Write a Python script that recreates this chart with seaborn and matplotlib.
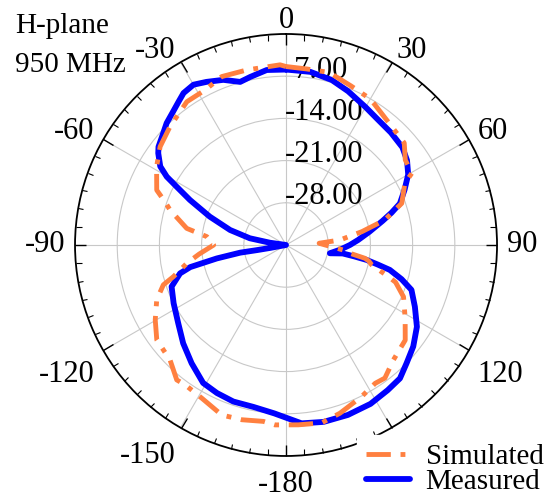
import numpy as np
import matplotlib
matplotlib.use("Agg")
import matplotlib.pyplot as plt
import matplotlib.transforms as mtransforms
import seaborn as sns

# angles (deg, clockwise from top, left side negative), gain in dB
meas_angle = [0, 3, 8, 15.5, 22, 30, 36, 43, 50, 55, 60, 65, 70, 73, 76, 81, 86, 90, 95,
              100.7, 98.5, 99.5, 100.5, 102, 103.5, 106.5, 109.7, 115.6, 122, 128.6, 134.4,
              139.5, 145, 152, 160, 168, 175, -176, -168.6, -161.4, -155, -149, -141.4,
              -133.7, -126, -117.4, -110, -105, -103, -101, -99.5, -100, -100.5, -90, -82,
              -79.5, -75, -69.6, -64.9, -62, -60.2, -58, -54.3, -52.4, -48.9, -44.4, -40.2,
              -36.9, -34, -30, -26, -20.8, -15.7, -12, -6.3, 0]
meas_gain = [-5.9, -6.0, -6.0, -6.6, -7.5, -8.6, -9.2, -9.5, -9.8, -10.5, -11.6, -13.3, -14.9,
             -16.7, -18.5, -21.0, -23.0, -24.4, -26.0, -27.6, -25.5, -23.5, -21.4, -19.5,
             -17.3, -15.0, -12.9, -11.3, -9.4, -8.0, -7.0, -5.9, -5.6, -5.15, -5.0, -5.0,
             -5.3, -7.0, -7.6, -7.6, -7.9, -8.3, -9.9, -11.4, -12.9, -14.0, -14.8, -16.8,
             -18.7, -23.3, -27.3, -30.1, -32.3, -35.0, -32.3, -28.9, -25.4, -21.5, -17.4,
             -14.5, -12.2, -10.4, -8.9, -8.3, -7.7, -6.7, -6.0, -5.3, -4.6, -4.3, -4.9,
             -5.7, -6.9, -6.5, -5.8, -5.9]

sim_angle = [0, 6.7, 14, 22.2, 29.2, 32, 40, 49.2, 54.5, 60.3, 62.6, 70.2, 75.8, 80, 84.7,
             87, 90, 95, 97.5, 99.6, 101, 103.1, 107.2, 108.8, 113.8, 121.6, 128.6, 137,
             143.4, 147.2, 153.5, 162.2, 168.7, 176.1, -176.5, -172.7, -165.8, -159.3,
             -151.2, -144.2, -141, -134.8, -126.3, -119.8, -113, -108, -105.7, -100.4, -96,
             -90, -84, -80.5, -73.2, -70.4, -67, -58.8, -52, -44.4, -34.7, -27.6, -20.9,
             -12.7, -1.9, 0]
sim_gain = [-5.4, -5.6, -5.5, -6.5, -7.0, -7.4, -8.5, -9.1, -10.7, -11.0, -12.8, -14.6, -18.1,
            -22.2, -26.0, -29.5, -28.5, -25.5, -24.2, -21.7, -21.0, -20.4, -17.2, -15.8,
            -13.7, -11.8, -9.7, -8.9, -7.5, -7.7, -6.9, -5.7, -4.9, -5.1, -5.1, -5.5, -5.1,
            -4.85, -6.0, -6.4, -6.2, -7.9, -8.4, -10.0, -11.7, -13.6, -15.6, -18.3, -20.5,
            -23.0, -21.8, -18.3, -14.9, -13.7, -11.7, -9.9, -8.5, -7.5, -6.1, -6.0, -5.1,
            -5.25, -5.1, -5.4]

rings = [-28, -21, -14, -7]
theta_ticks = [0, 30, 60, 90, 120, 150, 180, 210, 240, 270, 300, 330]
# the 150 label sits under the legend in the original, so it is left blank
theta_labels = ["0", "30", "60", "90", "120", "", "-180", "-150", "-120", "-90", "-60", "-30"]

sns.set_theme(style="white")
plt.rcParams['font.family'] = ['Liberation Serif', 'DejaVu Serif']
plt.rcParams['text.color'] = 'black'
plt.rcParams['xtick.color'] = 'black'

fig = plt.figure(figsize=(5.5, 4.99), dpi=100)
ax = fig.add_axes([0.1364, 0.0862, 0.7673, 0.8457], projection='polar')
ax.set_theta_zero_location('N')
ax.set_theta_direction(-1)

th_m = np.unwrap(np.deg2rad(meas_angle))
th_s = np.unwrap(np.deg2rad(sim_angle))

sns.lineplot(x=th_m, y=meas_gain, ax=ax, sort=False, estimator=None,
             color='#0000FF', lw=4.2, label='Measured', zorder=3)
sns.lineplot(x=th_s, y=sim_gain, ax=ax, sort=False, estimator=None,
             color='#FF8040', lw=3.5, label='Simulated', zorder=4)
ax.lines[-1].set_dashes((5, 2, 1, 2))
ax.lines[-1].set_dash_capstyle('butt')

ax.set_ylim(-35, 0)
ax.set_yticks(rings)
ax.set_yticklabels([])
ax.set_xlabel('')
ax.set_ylabel('')

ax.set_xticks(np.deg2rad(theta_ticks))
ax.set_xticklabels([])
ax.set_xticks(np.deg2rad(np.arange(0, 360, 5)), minor=True)
ax.tick_params(axis='x', which='both', top=True, bottom=False, direction='in')
ax.tick_params(axis='x', which='major', length=8, width=1)
ax.tick_params(axis='x', which='minor', length=4, width=0.8)

# angle labels, edge-aligned just outside the circle
gap = 7.2  # points
for a, txt in zip(theta_ticks, theta_labels):
    s, c = np.sin(np.deg2rad(a)), np.cos(np.deg2rad(a))
    ha = 'left' if s > 0.1 else ('right' if s < -0.1 else 'center')
    va = 'bottom' if c > 0.1 else ('top' if c < -0.1 else 'center')
    dy = {'bottom': -8, 'center': 0, 'top': -3}[va]
    ax.annotate(txt, xy=(np.deg2rad(a), 0), xytext=(gap * s, gap * c + dy),
                textcoords='offset points', ha=ha, va=va, fontsize=22,
                annotation_clip=False)

ax.grid(True, color='#c8c8c8', lw=0.8)
ax.spines['polar'].set_color('black')
ax.spines['polar'].set_linewidth(1.3)

# radial labels along the 0 deg axis
off = mtransforms.offset_copy(ax.transData, fig=fig, x=-1, y=6, units='dots')
for r in rings:
    ax.text(0, r, f"{r:.2f}", transform=off, ha='left', va='center',
            fontsize=22, color='black', zorder=2)

fig.text(15 / 550, 1 - 33 / 499, "H-plane", fontsize=21, va='baseline', ha='left')
fig.text(15 / 550, 1 - 72 / 499, "950 MHz", fontsize=21, va='baseline', ha='left')

h, l = ax.get_legend_handles_labels()
order = [l.index('Simulated'), l.index('Measured')]
leg = ax.legend([h[i] for i in order], [l[i] for i in order],
                loc='upper left', bbox_to_anchor=(357 / 550, 1 - 435 / 499),
                bbox_transform=fig.transFigure, fontsize=21, frameon=True,
                fancybox=False, framealpha=1, edgecolor='white', facecolor='white',
                borderpad=0.3, borderaxespad=0, handlelength=1.5, handletextpad=0.55,
                labelspacing=-0.05)
leg.set_zorder(10)

fig.savefig('out.png', dpi=100)
